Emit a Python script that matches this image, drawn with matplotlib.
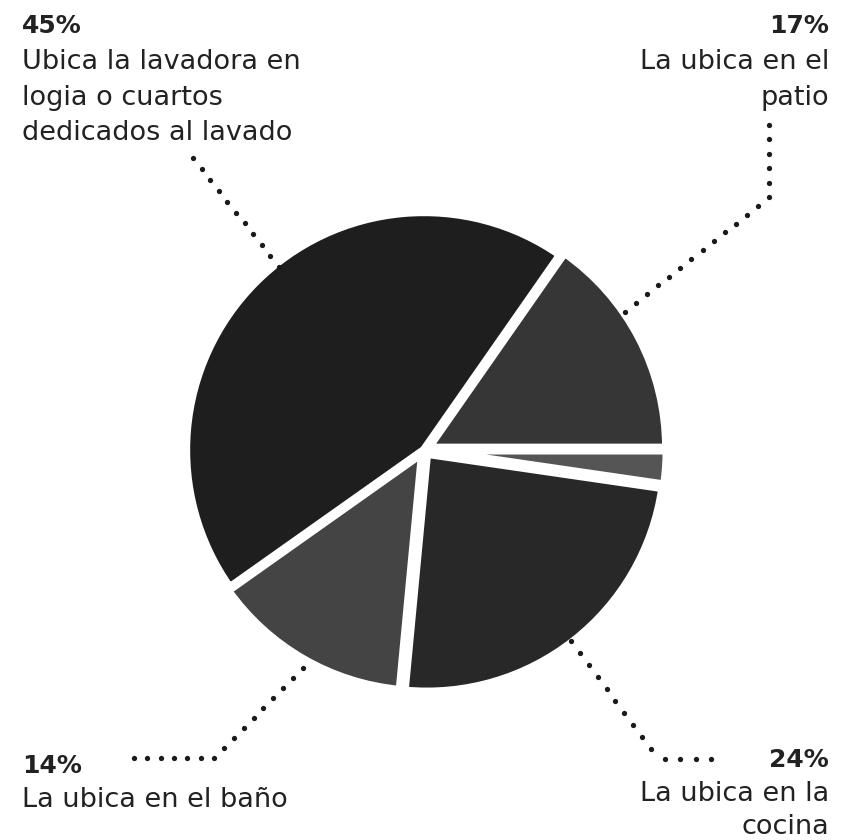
import matplotlib
matplotlib.use("Agg")
import matplotlib.pyplot as plt
import numpy as np

# Data
categories = ["La ubica en el patio", "Ubica la lavadora en logia o cuartos dedicados al lavado",
              "La ubica en el baño", "La ubica en la cocina", "Otro"]
values = [15.3, 44.5, 13.7, 24.2, 2.3]
pct_labels = ["17%", "45%", "14%", "24%"]
colors = ["#363636", "#1e1e1e", "#444444", "#282828", "#555555"]

W, H = 851, 840
fig = plt.figure(figsize=(W / 100, H / 100), dpi=100)
fig.patch.set_facecolor("white")

# Pie axes
cx, cy, r = 424, 450, 238
ax = fig.add_axes([(cx - r) / W, 1 - (cy + r) / H, 2 * r / W, 2 * r / H])
ax.pie(values, colors=colors, startangle=0, counterclock=True, radius=1.0,
       explode=[0.02, 0.0, 0.015, 0.02, 0.02],
       wedgeprops=dict(edgecolor="white", linewidth=6, joinstyle="miter"))
ax.set_xlim(-1.0, 1.0)
ax.set_ylim(-1.0, 1.0)
ax.set_aspect("equal")
ax.axis("off")

# Overlay axes in pixel coordinates for leaders and text
ov = fig.add_axes([0, 0, 1, 1])
ov.set_xlim(0, W)
ov.set_ylim(H, 0)
ov.axis("off")

def dotted(points, step=14.5):
    pts = np.array(points, dtype=float)
    xs, ys = [pts[0, 0]], [pts[0, 1]]
    for a, b in zip(pts[:-1], pts[1:]):
        L = np.hypot(*(b - a))
        n = max(int(round(L / step)), 1)
        for k in range(1, n + 1):
            p = a + (b - a) * k / n
            xs.append(p[0]); ys.append(p[1])
    ov.plot(xs, ys, linestyle="none", marker="o", markersize=3.8,
            color="#1a1a1a", markeredgewidth=0)

dotted([(193, 158), (279, 267)])
dotted([(769, 125), (769, 197), (625, 312)])
dotted([(134, 758), (214, 758), (303, 668)])
dotted([(571, 641), (651, 749), (665, 759), (711, 759)])

font = "DejaVu Sans"
fs_pct = 18
fs_txt = 19.5
tc = "#222222"

def block(x, pct_base, text_bases, pct, lines, ha):
    ov.text(x, pct_base, pct, ha=ha, va="baseline", fontsize=fs_pct, fontweight="bold",
            family=font, color=tc)
    for b, t in zip(text_bases, lines):
        ov.text(x, b, t, ha=ha, va="baseline", fontsize=fs_txt,
                family=font, color=tc)

block(22, 33, [69, 105, 140], pct_labels[1],
      ["Ubica la lavadora en", "logia o cuartos", "dedicados al lavado"], "left")
block(829, 33, [69, 105], pct_labels[0], ["La ubica en el", "patio"], "right")
block(22, 773, [807], pct_labels[2], ["La ubica en el baño"], "left")
block(829, 767, [801, 834], pct_labels[3], ["La ubica en la", "cocina"], "right")

fig.savefig("out.png", dpi=100, facecolor="white")
